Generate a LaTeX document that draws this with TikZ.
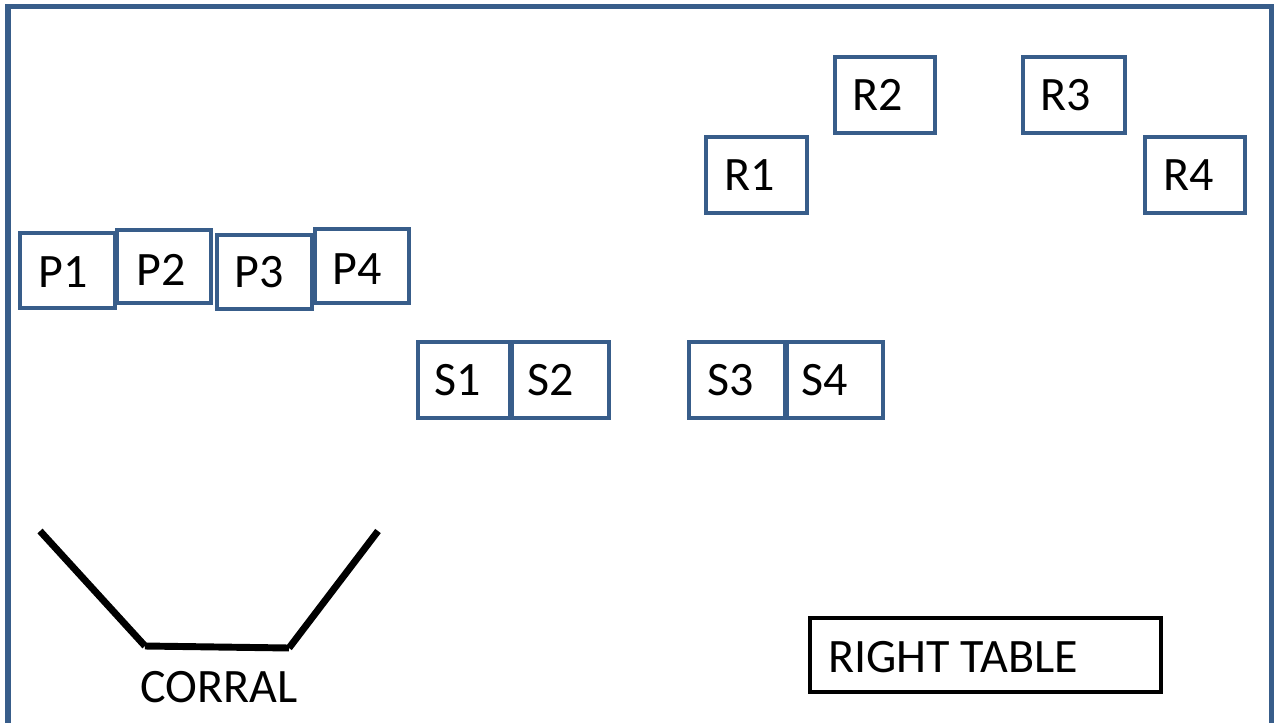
\documentclass[tikz,border=0pt]{standalone}
\usepackage{fontspec}
\setmainfont{Carlito}
\usetikzlibrary{fit}
\definecolor{frameblue}{RGB}{56,93,138}
\begin{document}
\begin{tikzpicture}[x=0.75pt,y=-0.75pt,
  bluebox/.style={draw=frameblue,line width=3.6pt,fill=white,inner sep=0pt,rectangle},
  blackbox/.style={draw=black,line width=3.6pt,fill=white,inner sep=0pt,rectangle},
  lbl/.style={anchor=base west,inner sep=0pt,font=\fontsize{36}{40}\selectfont},
  fence/.style={draw=black,line width=5.2pt,line cap=butt}]
\clip (0,0) rectangle (1279,722);
\fill[white] (0,0) rectangle (1279,722);
% outer frame
\coordinate (fbl) at (8,740);
\coordinate (ftl) at (8,6.3);
\coordinate (ftr) at (1271.5,6.3);
\coordinate (fbr) at (1271.5,740);
\draw[frameblue,line width=3.8pt] (fbl) -- (ftl) -- (ftr) -- (fbr);
% P row
\node[bluebox,fit={(20,233) (115,308)}] (P1) {};
\node[bluebox,fit={(117,230) (211,303)}] (P2) {};
\node[bluebox,fit={(217,235) (312,309)}] (P3) {};
\node[bluebox,fit={(315,229) (409,303)}] (P4) {};
\node[lbl] (tP1) at (38,287) {P1};
\node[lbl] (tP2) at (136,285) {P2};
\node[lbl] (tP3) at (234,287) {P3};
\node[lbl] (tP4) at (332,284) {P4};
% S row
\node[bluebox,fit={(418,342) (510,418)}] (S1) {};
\node[bluebox,fit={(512,342) (609,418)}] (S2) {};
\node[bluebox,fit={(689,342) (785,418)}] (S3) {};
\node[bluebox,fit={(787,342) (883,418)}] (S4) {};
\node[lbl] (tS1) at (434,395) {S1};
\node[lbl] (tS2) at (527,395) {S2};
\node[lbl] (tS3) at (707,395) {S3};
\node[lbl] (tS4) at (801,395) {S4};
% R boxes
\node[bluebox,fit={(706,137) (807,213)}] (R1) {};
\node[bluebox,fit={(835,57) (935,133)}] (R2) {};
\node[bluebox,fit={(1023,57) (1125,133)}] (R3) {};
\node[bluebox,fit={(1145,137) (1245,213)}] (R4) {};
\node[lbl] (tR1) at (724,190) {R1};
\node[lbl] (tR2) at (852.5,110.7) {R2};
\node[lbl] (tR3) at (1040,110.7) {R3};
\node[lbl] (tR4) at (1163,190) {R4};
% right table
\node[blackbox,fit={(810,618) (1161,692)}] (RT) {};
\node[lbl] (tRT) at (828,672) {RIGHT TABLE};
% corral
\coordinate (c1) at (40,531);
\coordinate (c2) at (145,646);
\coordinate (c3) at (289,648);
\coordinate (c4) at (378,531);
\draw[fence] (c1) -- (c2);
\draw[fence] (c2) -- (c3);
\draw[fence] (c3) -- (c4);
\node[lbl] (tCorral) at (140,702) {CORRAL};
\end{tikzpicture}
\end{document}
